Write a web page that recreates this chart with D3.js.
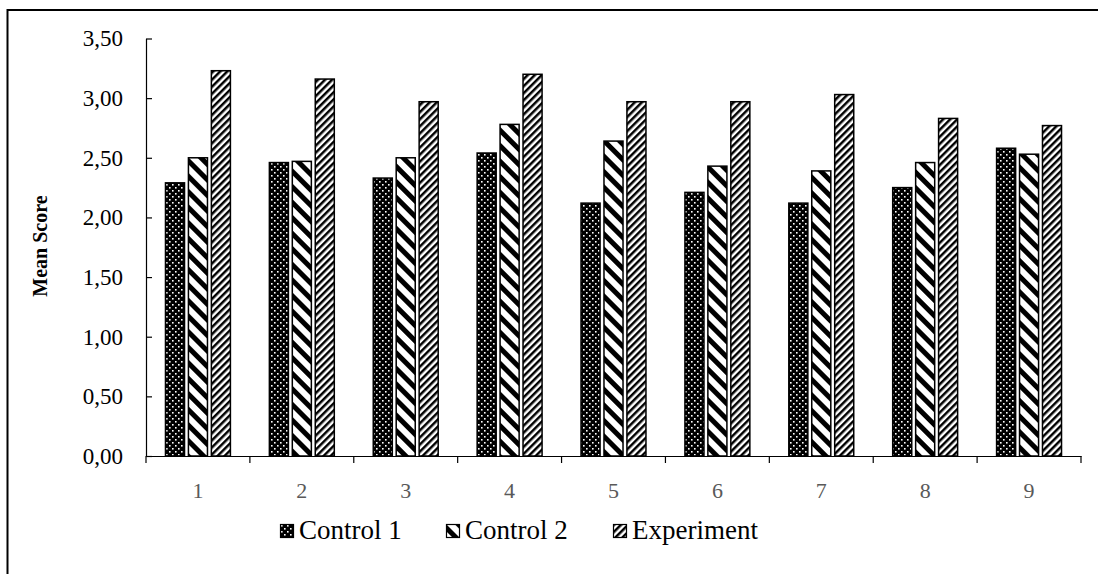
<!DOCTYPE html>
<html>
<head>
<meta charset="utf-8">
<script src="https://cdn.jsdelivr.net/npm/d3@7"></script>
<style>
  html, body { margin: 0; padding: 0; background: #fff; }
  svg { display: block; }
  svg text { font-family: "Liberation Serif", "DejaVu Serif", serif; }
</style>
</head>
<body>
<svg id="chart" width="1098" height="574"></svg>
<script>
// ---- data ----
const categories = ["1", "2", "3", "4", "5", "6", "7", "8", "9"];
const seriesNames = ["Control 1", "Control 2", "Experiment"];
const control1 = [2.29, 2.46, 2.33, 2.54, 2.12, 2.21, 2.12, 2.25, 2.58];
const control2 = [2.50, 2.47, 2.50, 2.78, 2.64, 2.43, 2.39, 2.46, 2.53];
const experiment = [3.23, 3.16, 2.97, 3.20, 2.97, 2.97, 3.03, 2.83, 2.77];
const yTicks = [0, 0.5, 1, 1.5, 2, 2.5, 3, 3.5];
const yTitle = "Mean Score";

(function () {
const FONT = "Liberation Serif, DejaVu Serif, serif";
const seriesValues = [control1, control2, experiment];
const patternIds = ["pat-c1", "pat-c2", "pat-exp"];

const svg = d3.select("#chart");

// frame
svg.append("rect")
  .attr("x", 7.5).attr("y", 10).attr("width", 1100).attr("height", 580)
  .attr("fill", "#fff").attr("stroke", "#000").attr("stroke-width", 2);

// patterns
const defs = svg.append("defs");
const p1 = defs.append("pattern").attr("id", "pat-c1")
  .attr("patternUnits", "userSpaceOnUse").attr("width", 6).attr("height", 6);
p1.append("rect").attr("width", 6).attr("height", 6).attr("fill", "#000");
p1.append("rect").attr("x", 1).attr("y", 1).attr("width", 1.6).attr("height", 1.6).attr("fill", "#fff");
p1.append("rect").attr("x", 4).attr("y", 4).attr("width", 1.6).attr("height", 1.6).attr("fill", "#fff");
const p2 = defs.append("pattern").attr("id", "pat-c2")
  .attr("patternUnits", "userSpaceOnUse").attr("width", 11).attr("height", 11)
  .attr("patternTransform", "rotate(45)");
p2.append("rect").attr("width", 11).attr("height", 11).attr("fill", "#fff");
p2.append("rect").attr("width", 11).attr("height", 5).attr("fill", "#000");
const p3 = defs.append("pattern").attr("id", "pat-exp")
  .attr("patternUnits", "userSpaceOnUse").attr("width", 5).attr("height", 5)
  .attr("patternTransform", "rotate(-45)");
p3.append("rect").attr("width", 5).attr("height", 5).attr("fill", "#fff");
p3.append("rect").attr("width", 5).attr("height", 2.5).attr("fill", "#000");

// scales
const mLeft = 146, mRight = 1081, mTop = 38.5, mBottom = 456;
const x0 = d3.scaleBand().domain(categories).range([mLeft, mRight]).paddingInner(0).paddingOuter(0);
const step = x0.step();
const x1 = d3.scaleBand().domain(seriesNames)
  .range([0.1875 * step, 0.8125 * step]).paddingInner(0.17).paddingOuter(0);
const y = d3.scaleLinear().domain([0, 3.5]).range([mBottom, mTop]);

// bars
const barData = [];
categories.forEach((c, i) => {
  seriesNames.forEach((s, j) => {
    barData.push({ cat: c, series: s, value: seriesValues[j][i], pat: patternIds[j] });
  });
});
svg.append("g").selectAll("rect").data(barData).join("rect")
  .attr("x", d => x0(d.cat) + x1(d.series))
  .attr("y", d => y(d.value))
  .attr("width", x1.bandwidth())
  .attr("height", d => y(0) - y(d.value))
  .attr("fill", d => `url(#${d.pat})`)
  .attr("stroke", "#000").attr("stroke-width", 1.5);

// y axis (ticks inside)
const yAxis = svg.append("g").attr("transform", `translate(${mLeft},0)`)
  .call(d3.axisLeft(y).tickValues(yTicks).tickSizeInner(-6).tickSizeOuter(0).tickPadding(23)
    .tickFormat(d => d3.format(".2f")(d).replace(".", ",")));
yAxis.attr("font-family", FONT);
yAxis.select(".domain").attr("stroke", "#000").attr("stroke-width", 1.2);
yAxis.selectAll(".tick line").attr("stroke", "#000").attr("stroke-width", 1.2);
yAxis.selectAll("text").attr("font-size", 23).attr("fill", "#000").attr("font-family", FONT);

// x axis
const xAxis = svg.append("g").attr("transform", `translate(0,${mBottom})`)
  .call(d3.axisBottom(x0).tickSize(0).tickPadding(26));
xAxis.attr("font-family", FONT);
xAxis.select(".domain").attr("stroke", "#000").attr("stroke-width", 1.2);
xAxis.selectAll("text").attr("font-size", 22).attr("fill", "#595959").attr("font-family", FONT);
const bounds = categories.map(c => x0(c)).concat([x0(categories[categories.length - 1]) + step]);
xAxis.selectAll(".btick").data(bounds).join("line").attr("class", "btick")
  .attr("x1", d => d).attr("x2", d => d).attr("y1", 0).attr("y2", 7)
  .attr("stroke", "#000").attr("stroke-width", 1.2);

// y title
svg.append("text")
  .attr("transform", "translate(47,246) rotate(-90)")
  .attr("text-anchor", "middle").attr("font-family", FONT)
  .attr("font-size", 20).attr("font-weight", "bold").attr("fill", "#000")
  .text(yTitle);

// legend
const legendX = [280, 446, 613];
const lg = svg.append("g").selectAll("g").data(seriesNames).join("g")
  .attr("transform", (d, i) => `translate(${legendX[i]},524)`);
lg.append("rect").attr("x", 0.5).attr("y", 0.5).attr("width", 13).attr("height", 13)
  .attr("fill", (d, i) => `url(#${patternIds[i]})`).attr("stroke", "#000").attr("stroke-width", 1.2);
lg.append("text").attr("x", 19).attr("y", 15).attr("font-family", FONT)
  .attr("font-size", 27).attr("fill", "#000").text(d => d);
})();
</script>
</body>
</html>
